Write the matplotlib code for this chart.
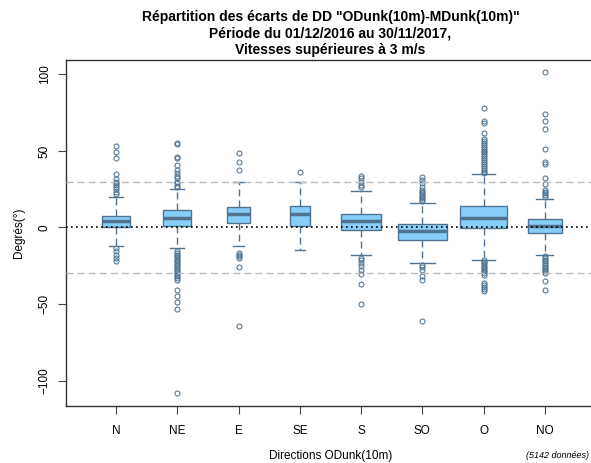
import matplotlib
matplotlib.use("Agg")
import numpy as np
import matplotlib.pyplot as plt

plt.rcParams['font.family'] = ['Liberation Sans', 'DejaVu Sans']

# boxplot summary per direction
directions = ["N", "NE", "E", "SE", "S", "SO", "O", "NO"]
counts = [408, 408, 268, 208, 862, 1252, 1135, 601]
q1 = [0.0, 0.7, 2.9, 0.7, -1.9, -8.2, -0.2, -3.9]
median = [4.4, 6.1, 9.1, 9.1, 4.4, -2.4, 6.1, 0.9]
q3 = [7.8, 11.1, 13.7, 13.9, 8.9, 2.0, 13.9, 5.5]
whisker_low = [-11.9, -13.4, -11.9, -15.0, -18.0, -23.0, -21.0, -18.0]
whisker_high = [20.2, 25.0, 29.6, 29.6, 23.7, 16.1, 34.8, 18.9]

out_N = [53.5, 49.0, 45.4, 34.8, 31.5, 30.0, 29.0, 27.6, 26.3, 25.0, 23.5, 22.0,
         -13.4, -15.6, -17.8, -20.0, -22.0]
out_NE = [55.0, 54.6, 45.9, 45.2, 40.9, 37.6, 35.5, 33.9, 32.2, 30.0, 28.9, 27.4, 26.3,
          -15.6, -16.7, -17.8, -18.9, -20.0, -21.1, -22.2, -23.3, -24.3, -25.4, -26.5,
          -27.6, -28.7, -29.8, -30.8, -32.0, -33.0, -34.5, -41.1, -45.0, -48.6, -53.2,
          -108.0]
out_E = [48.5, 42.8, 37.4, -16.7, -17.8, -18.9, -20.0, -26.1, -64.3]
out_SE = [36.1]
out_S = [33.7, 32.0, 30.0, 28.0, 26.3, -20.0, -21.5, -23.2, -25.4, -27.6, -30.2,
         -37.2, -50.0]
out_SO = [33.3, 31.1, 29.0, 26.3, 24.6, 23.5, 22.4, 21.3, 20.2, 19.1, 18.0, 17.0,
          -24.3, -25.8, -27.6, -31.9, -34.1, -61.0]
out_O = [77.8, 69.8, 68.0, 61.7, 57.6, 56.5, 55.0, 53.9, 52.8, 51.5, 50.2, 49.0, 47.7,
         46.5, 45.2, 44.0, 42.8, 41.5, 40.3, 39.0, 37.8, 36.5, 35.5,
         -21.5, -22.5, -23.5, -24.5, -25.5, -26.5, -27.5, -28.5, -29.5, -30.8,
         -36.3, -37.5, -38.8, -40.0, -41.3]
out_NO = [101.3, 74.3, 69.4, 64.5, 51.1, 43.0, 41.3, 32.6, 28.3, 24.6, 23.5, 22.4,
          21.3, 20.2, -18.9, -20.0, -21.1, -22.2, -23.3, -24.4, -25.5, -26.6, -27.7,
          -28.7, -29.7, -35.2, -40.8]
outliers = [out_N, out_NE, out_E, out_SE, out_S, out_SO, out_O, out_NO]

total = sum(counts)
edge = "#4f7391"
fill = "#87cefa"

stats = []
for i in range(len(directions)):
    stats.append({"label": directions[i], "q1": q1[i], "med": median[i], "q3": q3[i],
                  "whislo": whisker_low[i], "whishi": whisker_high[i],
                  "fliers": outliers[i]})

# varwidth like R: width proportional to sqrt(n)
widths = 0.8 * np.sqrt(np.array(counts) / max(counts))

fig = plt.figure(figsize=(5.91, 4.63), dpi=100)
ax = fig.add_axes([66 / 591, 57.3 / 463, 529 / 591, 345.7 / 463])

ax.bxp(stats, positions=np.arange(1, len(directions) + 1), widths=widths,
       capwidths=widths * 0.5, patch_artist=True,
       boxprops=dict(facecolor=fill, edgecolor=edge, linewidth=1.0),
       medianprops=dict(color=edge, linewidth=2.5, solid_capstyle="butt"),
       whiskerprops=dict(color=edge, linewidth=1.0, linestyle=(0, (5, 3))),
       capprops=dict(color=edge, linewidth=1.0),
       flierprops=dict(marker="o", markersize=3.6, markerfacecolor="none",
                       markeredgecolor=edge, markeredgewidth=0.75))

ax.axhline(0, color="black", linestyle=(0, (1, 2)), linewidth=1.2, zorder=5)
ax.axhline(30, color="#bbbbbb", linestyle=(0, (5, 3)), linewidth=1.0, zorder=5)
ax.axhline(-30, color="#bbbbbb", linestyle=(0, (5, 3)), linewidth=1.0, zorder=5)

ax.set_xlim(0.18, 8.82)
ax.set_ylim(-116.4, 109.4)
ax.set_yticks([-100, -50, 0, 50, 100])
ax.set_xticks(np.arange(1, len(directions) + 1))
ax.set_xticklabels(directions)
ax.tick_params(axis="both", labelsize=8.5, length=6, width=0.8, color="#444444")
ax.tick_params(axis="x", pad=8)
ax.tick_params(axis="y", pad=5)
for lab in ax.get_yticklabels():
    lab.set_rotation(90)
    lab.set_verticalalignment("center")
for sp in ax.spines.values():
    sp.set_color("#333333")
    sp.set_linewidth(1.0)

ax.set_ylabel("Degrés(°)", fontsize=8.5, labelpad=10)
ax.set_xlabel("Directions ODunk(10m)", fontsize=8.5, labelpad=9)
ax.set_title('Répartition des écarts de DD "ODunk(10m)-MDunk(10m)"\n'
             'Période du 01/12/2016 au 30/11/2017,\n'
             'Vitesses supérieures à 3 m/s',
             fontsize=10, fontweight="bold", linespacing=1.2, pad=4.5)
fig.text(589 / 591, 8 / 463, "(%d données)" % total, fontsize=6.5,
         style="italic", ha="right", va="center")

fig.savefig("out.png", dpi=100)
